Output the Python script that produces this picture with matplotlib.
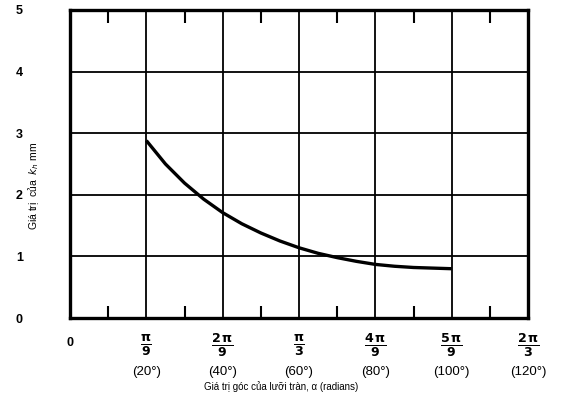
import matplotlib
matplotlib.use("Agg")
import matplotlib.pyplot as plt
from matplotlib.transforms import blended_transform_factory

# curve: angle in degrees -> k_h in mm
angle_deg = [20, 25, 30, 35, 40, 45, 50, 55, 60, 65, 70, 75, 80, 85, 90, 95, 100]
kh_mm = [2.88, 2.50, 2.19, 1.93, 1.71, 1.53, 1.38, 1.25, 1.14, 1.05, 0.98, 0.92, 0.87, 0.84, 0.82, 0.81, 0.80]

x_ticks = [20, 40, 60, 80, 100, 120]
tick_num = ["\\pi", "2\\,\\pi", "\\pi", "4\\,\\pi", "5\\,\\pi", "2\\,\\pi"]
tick_den = ["9", "9", "3", "9", "9", "3"]
tick_deg = ["(20°)", "(40°)", "(60°)", "(80°)", "(100°)", "(120°)"]
minor_ticks = [10, 30, 50, 70, 90, 110]
y_ticks = [0, 1, 2, 3, 4, 5]

plt.rcParams["font.family"] = ["Liberation Sans", "DejaVu Sans"]

fig = plt.figure(figsize=(5.62, 3.99), dpi=100)
ax = fig.add_axes([0.1246, 0.203, 0.815, 0.772])

ax.set_xlim(0, 120)
ax.set_ylim(0, 5)

# grid
for x in x_ticks[:-1]:
    ax.axvline(x, color="black", lw=1.3, zorder=1)
for y in y_ticks[1:-1]:
    ax.axhline(y, color="black", lw=1.3, zorder=1)

ax.plot(angle_deg, kh_mm, color="black", lw=2.4, zorder=3,
        solid_capstyle="butt", solid_joinstyle="round")

for s in ax.spines.values():
    s.set_linewidth(2.4)

ax.set_xticks(minor_ticks)
ax.set_xticklabels([])
ax.tick_params(axis="x", direction="in", length=9, width=1.5, top=True, bottom=True)
ax.set_yticks(y_ticks)
ax.set_yticklabels([str(v) for v in y_ticks], fontsize=9, fontweight="bold")
ax.tick_params(axis="y", length=0, pad=34)

# fraction tick labels under the axis
tr = blended_transform_factory(ax.transData, fig.transFigure)
ax.text(0, 1 - 343 / 399, "0", transform=tr, ha="center", va="center", fontsize=9, fontweight="bold")
for x, n, d, deg in zip(x_ticks, tick_num, tick_den, tick_deg):
    ax.text(x, 1 - 345 / 399, "$\\mathbf{\\frac{%s}{%s}}$" % (n, d), transform=tr,
            ha="center", va="center", fontsize=13)
    ax.text(x, 1 - 372 / 399, deg, transform=tr, ha="center", va="center", fontsize=9.5)

fig.text(0.50, 1 - 387 / 399, "Giá trị góc của lưỡi tràn, α (radians)", ha="center", va="center", fontsize=7)
fig.text(0.06, 0.535, "Giá trị  của  $k_h$ mm", rotation=90, ha="center", va="center", fontsize=7.5)

fig.savefig("out.png", dpi=100)
